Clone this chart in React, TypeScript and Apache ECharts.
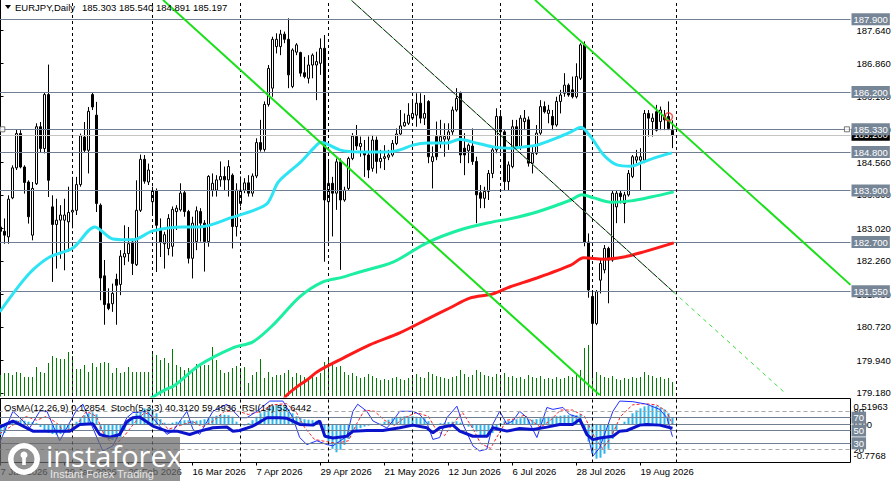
import React, { useEffect, useRef } from "react";
import * as echarts from "echarts";

const FONT = "'Liberation Sans', Arial, Helvetica, sans-serif";
const SYMBOL = "EURJPY,Daily";
const MONTHS = ["Jan", "Feb", "Mar", "Apr", "May", "Jun", "Jul", "Aug", "Sep", "Oct", "Nov", "Dec"];
const FIRST_DAY = "2026-01-07";
const SLOT_COUNT = 213;
const LABEL_STEP = 16;
const MONTH_START_BARS = [18, 38, 60, 82, 103, 125, 148, 169];

const OPEN = [
  183.05, 182.95, 182.82, 183.73, 184.43, 185.23, 184.45, 184.10, 182.86, 184.06,
  185.39, 184.88, 186.14, 183.52, 183.11, 183.21, 183.21, 183.17, 183.40, 183.44,
  184.04, 185.15, 184.84, 186.14, 185.66, 183.56, 181.91, 181.26, 181.26, 181.83,
  181.71, 182.35, 182.43, 182.70, 182.17, 183.44, 184.63, 184.10, 183.64, 183.89,
  183.02, 182.66, 182.55, 182.60, 183.41, 183.45, 183.85, 183.41, 182.32, 182.71,
  183.41, 183.14, 182.71, 183.91, 183.91, 184.15, 184.23, 184.15, 184.26, 183.06,
  183.60, 183.91, 184.08, 183.84, 184.24, 185.02, 184.86, 185.91, 186.29, 187.26,
  187.26, 187.55, 187.43, 186.33, 187.13, 187.12, 186.65, 186.52, 186.83, 186.83,
  186.87, 187.22, 183.64, 184.07, 183.84, 184.57, 183.68, 183.95, 184.65, 185.16,
  184.93, 184.79, 184.73, 184.42, 185.08, 184.58, 184.65, 184.68, 184.73, 185.00,
  185.22, 185.41, 185.47, 185.59, 185.66, 185.94, 185.59, 185.98, 184.58, 185.16,
  185.04, 185.10, 185.10, 185.27, 185.78, 186.17, 184.89, 184.83, 184.94, 184.58,
  183.85, 183.72, 183.88, 184.30, 184.85, 185.63, 185.27, 184.11, 184.46, 185.39,
  184.93, 185.51, 185.55, 184.54, 184.77, 185.24, 185.86, 185.70, 185.63, 185.43,
  185.98, 186.17, 186.36, 186.25, 186.09, 186.52, 187.30, 182.70, 181.43, 180.80,
  181.81, 182.05, 182.55, 182.28, 183.52, 183.84, 183.60, 183.80, 184.23, 184.61,
  184.61, 184.61, 185.70, 185.51, 185.74, 185.51, 185.66, 185.63, 185.303,
];
const HIGH = [
  183.33, 183.25, 183.79, 184.49, 185.33, 185.31, 184.49, 184.14, 184.10, 185.47,
  185.50, 186.19, 186.84, 183.79, 183.71, 183.56, 183.71, 183.99, 184.22, 184.22,
  185.23, 185.50, 185.85, 186.19, 185.97, 183.60, 182.28, 181.62, 181.73, 181.96,
  182.51, 183.09, 183.05, 182.78, 184.14, 184.74, 184.73, 184.53, 183.99, 183.95,
  183.25, 182.94, 183.35, 183.53, 183.56, 184.07, 183.91, 183.45, 183.29, 183.53,
  183.49, 183.21, 184.26, 184.30, 184.26, 184.58, 184.46, 184.61, 184.30, 184.07,
  184.23, 184.19, 184.26, 184.30, 185.12, 185.55, 185.98, 186.83, 187.49, 187.57,
  187.65, 187.61, 187.92, 187.22, 187.34, 187.14, 187.02, 187.06, 187.10, 187.14,
  187.45, 187.53, 184.61, 184.22, 184.65, 184.65, 183.99, 184.69, 185.24, 185.43,
  185.16, 185.08, 185.16, 185.20, 185.16, 184.85, 184.96, 184.85, 185.08, 185.35,
  185.78, 185.70, 185.94, 185.98, 186.17, 186.17, 186.13, 186.01, 184.93, 185.51,
  185.55, 185.47, 185.47, 185.86, 186.29, 186.21, 185.24, 185.00, 185.35, 184.69,
  184.03, 183.99, 184.38, 184.93, 185.82, 185.78, 185.31, 184.58, 185.55, 185.55,
  185.66, 185.78, 185.63, 184.96, 185.43, 186.01, 185.98, 185.90, 185.78, 186.09,
  186.25, 186.64, 186.40, 186.56, 186.87, 187.34, 187.38, 182.90, 181.58, 181.58,
  182.28, 182.63, 182.59, 183.91, 183.91, 183.91, 183.87, 184.38, 184.73, 184.85,
  184.89, 185.78, 185.78, 185.70, 185.90, 185.86, 185.78, 185.98, 185.540,
];
const LOW = [
  182.70, 182.66, 182.66, 183.70, 184.38, 184.42, 183.83, 183.13, 182.74, 184.03,
  184.80, 184.77, 183.75, 181.77, 182.08, 182.31, 182.04, 182.47, 183.02, 183.33,
  183.99, 184.80, 184.30, 185.78, 183.40, 181.34, 180.77, 181.11, 181.07, 180.77,
  181.46, 182.16, 182.24, 181.93, 182.14, 183.40, 184.06, 184.03, 183.37, 182.00,
  182.35, 182.08, 182.39, 182.36, 182.98, 183.41, 183.29, 182.20, 181.85, 182.51,
  182.71, 182.01, 182.59, 183.76, 183.76, 183.99, 183.91, 183.76, 182.55, 182.83,
  183.53, 183.84, 183.76, 183.76, 184.19, 184.81, 184.81, 185.86, 186.09, 187.10,
  187.06, 187.34, 186.29, 186.29, 187.06, 186.56, 186.52, 186.40, 186.52, 186.01,
  186.60, 182.24, 182.71, 182.83, 183.45, 182.05, 183.64, 183.91, 184.61, 184.85,
  184.69, 184.22, 184.19, 184.34, 184.30, 184.42, 184.38, 184.61, 184.69, 184.96,
  185.20, 185.39, 185.43, 185.55, 185.39, 185.47, 185.43, 184.54, 183.95, 184.61,
  184.89, 184.69, 184.85, 185.20, 185.74, 184.54, 184.26, 184.54, 184.50, 183.14,
  183.49, 183.49, 183.68, 184.19, 184.77, 184.77, 183.91, 183.91, 184.42, 184.89,
  184.85, 185.31, 184.46, 184.30, 184.73, 185.20, 185.70, 185.47, 185.31, 185.39,
  185.70, 186.09, 186.09, 186.05, 186.05, 186.48, 182.60, 181.40, 179.60, 180.76,
  181.50, 181.97, 181.27, 182.24, 183.14, 183.60, 183.14, 183.76, 184.19, 184.54,
  183.91, 184.54, 185.16, 185.16, 185.28, 185.31, 185.31, 185.31, 184.891,
];
const CLOSE = [
  182.95, 182.86, 183.70, 184.43, 185.23, 184.45, 184.09, 183.29, 183.95, 185.39,
  184.88, 186.14, 184.14, 183.11, 183.21, 183.33, 183.33, 183.39, 183.44, 184.04,
  185.18, 184.84, 185.75, 185.85, 183.60, 181.86, 181.24, 181.15, 181.50, 181.69,
  182.37, 182.43, 182.66, 182.20, 183.44, 184.63, 184.12, 184.38, 183.89, 183.09,
  182.70, 182.87, 183.25, 183.46, 183.49, 183.84, 183.41, 182.32, 183.14, 183.43,
  183.14, 182.71, 184.23, 184.07, 184.15, 184.23, 184.15, 184.46, 183.06, 183.91,
  183.91, 184.08, 183.84, 184.24, 185.02, 184.86, 185.91, 186.75, 187.43, 187.43,
  187.55, 187.43, 186.60, 187.18, 187.30, 186.64, 186.56, 186.83, 187.06, 186.91,
  187.22, 183.68, 184.07, 183.84, 184.57, 183.68, 183.91, 184.65, 185.17, 184.94,
  185.00, 184.73, 184.38, 185.08, 184.58, 184.65, 184.69, 184.73, 185.00, 185.22,
  185.41, 185.49, 185.66, 185.70, 185.94, 185.59, 185.70, 184.69, 184.69, 184.69,
  185.16, 185.16, 185.27, 185.78, 186.05, 184.73, 184.73, 184.96, 184.58, 183.80,
  183.72, 183.88, 184.30, 184.85, 185.63, 185.27, 184.11, 184.50, 185.39, 184.93,
  185.59, 185.59, 184.54, 184.77, 185.24, 185.86, 185.74, 185.78, 185.43, 185.98,
  186.13, 186.36, 186.13, 186.09, 186.56, 187.30, 182.70, 181.58, 180.80, 181.54,
  182.20, 182.55, 182.28, 183.84, 183.84, 183.76, 183.80, 184.30, 184.69, 184.69,
  184.69, 185.70, 185.59, 185.59, 185.31, 185.78, 185.55, 185.35, 185.197,
];
// tick volume (thousands)
const VOLUME = [
  21, 23, 23, 21, 24, 23, 19, 19, 19, 29,
  24, 23, 33, 40, 38, 37, 37, 44, 40, 27,
  27, 31, 24, 33, 29, 33, 34, 33, 23, 28,
  23, 24, 29, 24, 24, 24, 24, 24, 44, 41,
  36, 38, 33, 47, 31, 29, 26, 28, 26, 32,
  33, 31, 31, 49, 36, 26, 23, 24, 28, 30,
  28, 29, 13, 21, 24, 37, 18, 24, 19, 21,
  21, 23, 26, 19, 23, 21, 19, 18, 21, 19,
  23, 34, 38, 31, 29, 30, 24, 21, 23, 20,
  18, 19, 22, 20, 18, 16, 17, 16, 18, 19,
  17, 16, 18, 20, 22, 19, 18, 24, 22, 20,
  19, 18, 17, 19, 20, 26, 22, 19, 21, 26,
  24, 21, 20, 19, 22, 20, 23, 19, 20, 18,
  19, 17, 21, 19, 18, 20, 17, 18, 17, 19,
  17, 18, 20, 19, 21, 26, 48, 51, 44, 24,
  21, 19, 18, 20, 17, 16, 18, 17, 19, 18,
  19, 24, 21, 20, 18, 19, 17, 18, 14,
];
const OSMA = [
  -0.22, -0.18, 0.03, 0.06, 0.08, 0.08, 0.07, 0.05, 0.04, 0.02,
  -0.06, -0.13, -0.18, -0.20, -0.21, -0.20, -0.18, -0.14, -0.08, 0.05,
  0.12, 0.18, 0.22, 0.24, 0.20, -0.12, -0.25, -0.30, -0.32, -0.30,
  -0.26, -0.12, 0.06, 0.15, 0.22, 0.28, 0.32, 0.33, 0.30, 0.22,
  0.10, 0.03, 0.01, 0.03, 0.05, 0.07, 0.08, 0.08, 0.07, 0.07,
  0.08, 0.10, 0.12, 0.15, 0.17, 0.19, 0.19, 0.18, 0.15, 0.05,
  -0.02, -0.03, 0.02, 0.08, 0.15, 0.22, 0.28, 0.33, 0.37, 0.40,
  0.39, 0.36, 0.31, 0.22, 0.16, 0.12, 0.10, 0.09, 0.08, 0.07,
  0.03, -0.15, -0.35, -0.50, -0.57, -0.52, -0.42, -0.30, -0.18, -0.12,
  -0.08, -0.05, -0.03, -0.01, 0.00, 0.01, 0.05, 0.09, 0.12, 0.14,
  0.15, 0.16, 0.16, 0.16, 0.15, 0.14, 0.12, 0.06, 0.01, -0.02,
  0.02, 0.03, 0.04, 0.05, 0.06, 0.03, -0.02, -0.05, -0.08, -0.15,
  -0.22, -0.26, -0.25, -0.18, -0.08, 0.02, 0.06, 0.07, 0.08, 0.10,
  0.12, 0.13, 0.10, 0.09, 0.10, 0.12, 0.14, 0.15, 0.15, 0.16,
  0.17, 0.18, 0.18, 0.19, 0.18, 0.20, -0.10, -0.35, -0.60, -0.70,
  -0.68, -0.60, -0.50, -0.30, -0.12, -0.02, 0.05, 0.14, 0.22, 0.28,
  0.32, 0.36, 0.38, 0.38, 0.37, 0.34, 0.30, 0.22, 0.12854,
];

// moving averages: [bar index, price]
const MA_FAST = [
  [-0.2, 181.07], [4.8, 181.7], [8.1, 182.05], [12.3, 182.35], [18.1, 182.56], [23.6, 183.05],
  [28.1, 182.77], [33.1, 182.75], [38.1, 182.96], [45.6, 183.05], [49.8, 183.05], [58.1, 183.28],
  [63.6, 183.45], [66.8, 183.61], [69.3, 184.08], [71.8, 184.31], [75.1, 184.57], [78.6, 184.92],
  [80.1, 185.03], [84.8, 184.85], [89.8, 184.8], [96.6, 184.8], [99.8, 184.85], [103.1, 184.96],
  [106.6, 185.01], [111.6, 185.01], [114.8, 185.1], [118.1, 185.03], [123.1, 184.92], [127.3, 184.89],
  [130.8, 184.92], [134.1, 184.96], [139.1, 185.13], [142.6, 185.27], [145.1, 185.38], [147.6, 185.15],
  [150.8, 184.73], [154.1, 184.5], [157.6, 184.47], [160.8, 184.57], [164.1, 184.68], [167.8, 184.78],
];
const MA_MID = [
  [37.5, 179.05], [41.1, 179.25], [43.6, 179.36], [49.8, 179.83], [58.1, 180.23], [63.1, 180.37],
  [68.1, 180.76], [74.8, 181.42], [80.6, 181.77], [85.6, 181.88], [89.8, 182.0], [98.1, 182.23],
  [106.6, 182.68], [114.8, 182.98], [123.1, 183.17], [127.3, 183.24], [134.1, 183.4], [142.6, 183.68],
  [145.3, 183.8], [148.3, 183.73], [152.6, 183.63], [157.6, 183.66], [162.6, 183.75], [168.3, 183.87],
];
const MA_SLOW = [
  [70.8, 179.02], [71.6, 179.13], [74.1, 179.32], [76.6, 179.48], [79.3, 179.68], [84.8, 179.95],
  [92.3, 180.3], [99.8, 180.58], [107.3, 180.93], [112.3, 181.16], [117.3, 181.39], [123.1, 181.49],
  [127.3, 181.65], [134.1, 181.86], [142.6, 182.16], [145.8, 182.33], [150.8, 182.3], [155.8, 182.35],
  [160.8, 182.47], [168.3, 182.68],
];

// trend lines: [bar index, price] anchors
const TREND_A = [[40.6, 188.35], [149.8, 179.13]];
const TREND_B = [[133.6, 188.35], [212.5, 181.7]];
const TREND_C = [[87.6, 188.35], [168.3, 181.53]];
const TREND_C_RAY = [[168.3, 181.53], [196.1, 179.18]];

const LEVELS = [187.9, 186.2, 185.33, 184.8, 183.9, 182.7, 181.55];
const LAST_PRICE = 185.197;
const PRICE_TICKS = [187.64, 186.86, 186.1, 185.33, 184.56, 183.8, 183.02, 182.26, 181.48, 180.72, 179.94, 179.18];
const PRICE_RANGE = [179.107, 188.347];
const ALERT_MARK = [[167, 185.62]];
const ANCHOR_MARKS = [[0.45, 185.33], [211.6, 185.33]];

// sub window
const OSMA_RANGE = [-0.7768, 0.51963];
const RSI_LEVELS = [70, 50, 30];
const STOCH_LEVELS = [80, 20];
const STOCH_MAIN = [
  [-0.2, 31], [3.1, 80], [4.8, 70], [7.3, 54], [9.8, 80], [11.6, 80], [14.8, 34], [19.1, 83], [20.6, 91],
  [24.1, 39], [25.6, 18], [28.1, 26], [31.6, 70], [33.1, 78], [36.6, 80], [41.6, 44], [43.1, 49], [46.6, 80],
  [48.1, 52], [49.8, 44], [53.1, 80], [56.6, 91], [59.8, 70], [61.6, 70], [64.1, 80], [67.3, 96], [70.6, 96],
  [73.1, 70], [74.8, 39], [76.6, 28], [79.1, 34], [81.6, 28], [83.1, 26], [86.6, 41], [88.1, 80], [89.3, 91],
  [91.6, 80], [93.1, 65], [96.6, 54], [98.1, 65], [99.8, 80], [103.1, 80], [104.8, 75], [106.6, 62], [108.1, 36],
  [109.8, 39], [111.6, 70], [114.1, 88], [115.6, 60], [118.1, 26], [119.8, 18], [121.6, 21], [123.1, 60],
  [124.8, 80], [126.6, 60], [128.1, 65], [129.8, 80], [131.6, 70], [134.1, 39], [136.6, 86], [138.1, 83],
  [140.6, 86], [142.3, 75], [144.8, 70], [146.6, 49], [148.1, 10], [149.8, 23], [153.1, 80], [154.8, 96],
  [158.1, 95], [161.6, 91], [164.8, 83], [166.6, 70], [168, 40.312],
];
const STOCH_SIGNAL = [
  [-0.2, 45], [4, 62], [6.5, 72], [9, 66], [11.5, 72], [14, 62], [16, 48], [19, 58], [21.5, 80], [24, 72],
  [26, 42], [28.5, 26], [31, 42], [33.5, 62], [36, 78], [39, 70], [42, 52], [45, 58], [48, 64], [50.5, 56],
  [53, 64], [56, 80], [59.5, 80], [62, 75], [65, 80], [68, 90], [71.5, 92], [74, 78], [76, 55], [78.5, 36],
  [82, 32], [84, 30], [87, 34], [89, 60], [91, 82], [93.5, 80], [96, 66], [98.5, 58], [101, 70], [104, 78],
  [107, 72], [109, 50], [111, 42], [113, 60], [115.5, 78], [118, 54], [120, 30], [122.5, 22], [124.5, 44],
  [126.5, 66], [128.5, 68], [131, 74], [133, 64], [135, 55], [137.5, 66], [140, 82], [143, 82], [146, 72],
  [148.5, 40], [150.5, 22], [152.5, 38], [155, 72], [158, 90], [161, 92], [164, 90], [166.5, 80], [168, 59.4936],
];
const RSI = [
  [-0.2, 55.3], [3.1, 64.7], [4.8, 59.5], [8.1, 49], [12.3, 49], [17.3, 49], [19.8, 59.5], [23.1, 60.5],
  [24.8, 43.7], [27.3, 39.5], [29.8, 43.7], [31.6, 63.7], [33.1, 70], [34.8, 71], [38.1, 56.9], [41.6, 49],
  [44.1, 49], [47.3, 43.7], [49.8, 49], [53.1, 54.2], [56.6, 55.3], [58.1, 49], [59.8, 50], [63.1, 56.9],
  [66.6, 70], [69.8, 70], [71.6, 69], [74.8, 59.5], [78.1, 58.4], [79.8, 64.7], [81.1, 41], [83.1, 38.4],
  [86.6, 41], [88.1, 49], [91.6, 50], [95.6, 50], [99.8, 54.2], [103.1, 58.4], [106.6, 54.2], [108.1, 46.3],
  [109.8, 54.2], [113.1, 58.4], [114.8, 49], [118.1, 41], [121.6, 41], [123.1, 54.2], [126.6, 49],
  [129.8, 53.2], [133.1, 51.6], [136.6, 55.3], [139.8, 59.5], [143.1, 59.5], [144.8, 67.4], [146.6, 43.7],
  [148.1, 35.8], [149.8, 38.4], [153.1, 41], [154.8, 49], [156.6, 50], [159.8, 58.4], [161.6, 59.5],
  [164.8, 58.4], [168, 53.6442],
];

function tradingDays(start: string, n: number): string[] {
  const out: string[] = [];
  const d = new Date(start + "T00:00:00Z");
  while (out.length < n) {
    const wd = d.getUTCDay();
    if (wd !== 0 && wd !== 6) {
      out.push(`${d.getUTCDate()} ${MONTHS[d.getUTCMonth()]} ${d.getUTCFullYear()}`);
    }
    d.setUTCDate(d.getUTCDate() + 1);
  }
  return out;
}

const TEXT = { color: "#000", fontFamily: FONT, fontSize: 9.5 };
const LEVEL_COLOR = "#6F7E90";
const BOX_COLOR = "#778696";

function boxLabel(bg: string, fmt: (v: number) => string) {
  return {
    show: true,
    position: "end",
    distance: 1,
    formatter: (p: any) => fmt(Number(p.value)),
    backgroundColor: bg,
    color: "#fff",
    padding: [1, 2, 0, 2],
    fontFamily: FONT,
    fontSize: 9.5,
    lineHeight: 11,
  };
}

function buildOption() {
  const cats = tradingDays(FIRST_DAY, SLOT_COUNT);
  const lastBar = OPEN.length - 1;
  const showLabel = (idx: number) => idx <= lastBar && idx % LABEL_STEP === 0;
  const candles = OPEN.map((o, i) => [o, CLOSE[i], LOW[i], HIGH[i]]);
  const dp = (v: number, n: number) => v.toFixed(n);

  const header =
    `OsMA(12,26,9) ${OSMA[lastBar]}  Stoch(5,3,3) ${dp(STOCH_MAIN[STOCH_MAIN.length - 1][1], 4)} ` +
    `${dp(STOCH_SIGNAL[STOCH_SIGNAL.length - 1][1], 4)}  RSI(14) ${dp(RSI[RSI.length - 1][1], 4)}`;
  const ohlc = `${dp(OPEN[lastBar], 3)} ${dp(HIGH[lastBar], 3)} ${dp(LOW[lastBar], 3)} ${dp(CLOSE[lastBar], 3)}`;

  const noEmph = { disabled: true };
  const lineBase = { type: "line", showSymbol: false, silent: true, animation: false, emphasis: noEmph };
  const richText = { color: "#000", fontFamily: FONT, fontSize: 9.5, lineHeight: 11 };

  return {
    animation: false,
    backgroundColor: "#fff",
    grid: [
      { left: -1.5, top: 0, width: 852, height: 396, containLabel: false, outerBoundsMode: "none" },
      {
        left: -1.5, top: 398.5, width: 852, height: 64, show: true, borderColor: "#000", borderWidth: 1,
        backgroundColor: "rgba(0,0,0,0)", containLabel: false, outerBoundsMode: "none",
      },
    ],
    xAxis: [
      { gridIndex: 0, type: "category", data: cats, show: false, boundaryGap: true },
      { gridIndex: 0, type: "value", min: -0.5, max: 212.5, show: false },
      {
        gridIndex: 1, type: "category", data: cats, boundaryGap: true, position: "bottom",
        axisLine: { show: false },
        axisTick: { show: true, alignWithLabel: true, interval: showLabel, length: 3, lineStyle: { color: "#000" } },
        axisLabel: { interval: showLabel, align: "left", margin: 4, ...TEXT },
        splitLine: { show: false },
      },
      { gridIndex: 1, type: "value", min: -0.5, max: 212.5, show: false },
    ],
    yAxis: [
      {
        gridIndex: 0, type: "value", position: "right", min: PRICE_RANGE[0], max: PRICE_RANGE[1],
        axisLine: { show: true, lineStyle: { color: "#000", width: 1 } },
        axisTick: { show: true, length: 3, customValues: PRICE_TICKS, lineStyle: { color: "#000" } },
        axisLabel: { customValues: PRICE_TICKS, formatter: (v: number) => v.toFixed(3), margin: 6, ...TEXT },
        splitLine: { show: false },
      },
      { gridIndex: 0, type: "value", min: 0, max: 396, show: false },
      {
        gridIndex: 1, type: "value", position: "right", min: 0, max: 100,
        axisLine: { show: true, lineStyle: { color: "#000" } },
        axisTick: { show: false },
        axisLabel: { customValues: STOCH_LEVELS, margin: 3, ...TEXT },
        splitLine: { show: false },
      },
      {
        gridIndex: 1, type: "value", position: "right", min: OSMA_RANGE[0], max: OSMA_RANGE[1],
        axisLine: { show: false }, axisTick: { show: false },
        axisLabel: {
          customValues: [OSMA_RANGE[1], 0, OSMA_RANGE[0]],
          formatter: (v: number) => (v === 0 ? "{mid|0.00}" : v > 0 ? `{top|${v}}` : `{bot|${v}}`),
          margin: 3, ...TEXT,
          rich: {
            top: { ...richText, padding: [15, 0, 0, 0] },
            bot: { ...richText, padding: [0, 0, 15, 0] },
            mid: { ...richText },
          },
        },
        splitLine: { show: false },
      },
    ],
    series: [
      {
        type: "bar", xAxisIndex: 0, yAxisIndex: 1, data: VOLUME, barWidth: 1,
        itemStyle: { color: "#008000" }, silent: true, z: 1, emphasis: noEmph,
      },
      {
        type: "candlestick", xAxisIndex: 0, yAxisIndex: 0, data: candles, barWidth: 3, z: 3, silent: true,
        itemStyle: {
          color: "#fff", color0: "#000", borderColor: "#000", borderColor0: "#000",
          borderColorDoji: "#000", borderWidth: 1,
        },
        emphasis: noEmph,
      },
      {
        ...lineBase, name: "levels", xAxisIndex: 1, yAxisIndex: 0, data: [], z: 4,
        markLine: {
          silent: true, symbol: ["none", "none"], animation: false, emphasis: noEmph,
          lineStyle: { color: LEVEL_COLOR, width: 1, type: "solid" },
          label: boxLabel(BOX_COLOR, (v) => v.toFixed(3)),
          data: [
            { yAxis: LAST_PRICE, lineStyle: { color: "#C4C4C4", width: 1, type: "solid" }, label: boxLabel("#000", (v) => v.toFixed(3)) },
            ...LEVELS.map((v) => ({ yAxis: v })),
          ],
        },
      },
      {
        ...lineBase, name: "separators", xAxisIndex: 1, yAxisIndex: 0, data: [], z: 4,
        markLine: {
          silent: true, symbol: ["none", "none"], animation: false, emphasis: noEmph,
          lineStyle: { color: "#000", width: 1, type: [3, 3] },
          label: { show: false },
          data: MONTH_START_BARS.map((i) => ({ xAxis: i })),
        },
      },
      { ...lineBase, xAxisIndex: 1, yAxisIndex: 0, data: MA_SLOW, smooth: 0.3, z: 5, lineStyle: { color: "#FF1A1A", width: 3 } },
      { ...lineBase, xAxisIndex: 1, yAxisIndex: 0, data: MA_MID, smooth: 0.3, z: 5, lineStyle: { color: "#1CEFA2", width: 3 } },
      { ...lineBase, xAxisIndex: 1, yAxisIndex: 0, data: MA_FAST, smooth: 0.3, z: 5, lineStyle: { color: "#2DE4F4", width: 3 } },
      { ...lineBase, xAxisIndex: 1, yAxisIndex: 0, data: TREND_A, z: 6, lineStyle: { color: "#19E019", width: 2 } },
      { ...lineBase, xAxisIndex: 1, yAxisIndex: 0, data: TREND_B, z: 6, lineStyle: { color: "#19E019", width: 2 } },
      { ...lineBase, xAxisIndex: 1, yAxisIndex: 0, data: TREND_C, z: 6, lineStyle: { color: "#000", width: 1 } },
      { ...lineBase, xAxisIndex: 1, yAxisIndex: 0, data: TREND_C, z: 6, lineStyle: { color: "#40E040", width: 1, type: [2, 5] } },
      { ...lineBase, xAxisIndex: 1, yAxisIndex: 0, data: TREND_C_RAY, z: 6, lineStyle: { color: "#3CDC3C", width: 1, type: [4, 4] } },
      {
        type: "scatter", xAxisIndex: 1, yAxisIndex: 0, data: ALERT_MARK, symbol: "circle", symbolSize: 8, z: 7,
        silent: true, itemStyle: { color: "rgba(0,0,0,0)", borderColor: "#E83030", borderWidth: 1.5 },
      },
      {
        type: "scatter", xAxisIndex: 1, yAxisIndex: 0, data: ANCHOR_MARKS, symbol: "rect", symbolSize: 5, z: 7,
        silent: true, itemStyle: { color: "#fff", borderColor: "#555", borderWidth: 1 },
      },
      // sub window
      {
        type: "bar", xAxisIndex: 2, yAxisIndex: 3, data: OSMA, barWidth: 2, z: 2, silent: true,
        itemStyle: { color: "#2DB6EA" }, emphasis: noEmph,
      },
      {
        ...lineBase, xAxisIndex: 3, yAxisIndex: 3, data: [], z: 3,
        markLine: {
          silent: true, symbol: ["none", "none"], animation: false, emphasis: noEmph,
          lineStyle: { color: LEVEL_COLOR, width: 1, type: "solid" }, label: { show: false },
          data: [{ yAxis: 0 }],
        },
      },
      {
        ...lineBase, xAxisIndex: 3, yAxisIndex: 2, data: [], z: 3,
        markLine: {
          silent: true, symbol: ["none", "none"], animation: false, emphasis: noEmph,
          lineStyle: { color: LEVEL_COLOR, width: 1, type: "solid" },
          label: boxLabel(BOX_COLOR, (v) => String(v)),
          data: [
            ...RSI_LEVELS.map((v) => ({ yAxis: v })),
            ...STOCH_LEVELS.map((v) => ({ yAxis: v, lineStyle: { color: "#A8A8A8", width: 1, type: [4, 3] }, label: { show: false } })),
          ],
        },
      },
      {
        ...lineBase, xAxisIndex: 3, yAxisIndex: 2, data: [], z: 3,
        markLine: {
          silent: true, symbol: ["none", "none"], animation: false, emphasis: noEmph,
          lineStyle: { color: "#000", width: 1, type: [3, 3] }, label: { show: false },
          data: MONTH_START_BARS.map((i) => ({ xAxis: i })),
        },
      },
      { ...lineBase, xAxisIndex: 3, yAxisIndex: 2, data: STOCH_SIGNAL, z: 4, lineStyle: { color: "#FF2020", width: 1, type: [3, 2] } },
      { ...lineBase, xAxisIndex: 3, yAxisIndex: 2, data: STOCH_MAIN, z: 4, lineStyle: { color: "#2030FF", width: 1 } },
      { ...lineBase, xAxisIndex: 3, yAxisIndex: 2, data: RSI, z: 5, lineStyle: { color: "#0B14CC", width: 3 } },
    ],
    graphic: {
      elements: [
        { type: "polygon", z: 50, shape: { points: [[5, 5], [11, 5], [8, 9]] }, style: { fill: "#000" } },
        { type: "text", z: 50, x: 15, y: 7, style: { text: SYMBOL, fill: "#000", fontFamily: FONT, fontSize: 9.5, verticalAlign: "middle" } },
        { type: "text", z: 50, x: 82, y: 7, style: { text: ohlc, fill: "#000", fontFamily: FONT, fontSize: 9.5, verticalAlign: "middle" } },
        { type: "text", z: 50, x: 4, y: 407.5, style: { text: header, fill: "#000", fontFamily: FONT, fontSize: 9.5, verticalAlign: "middle" } },
        {
          type: "group", z: 100,
          children: [
            { type: "rect", z: 100, shape: { x: 0, y: 437, width: 180, height: 44 }, style: { fill: "rgba(105,105,105,0.72)" } },
            { type: "ring", z: 101, shape: { cx: 24, cy: 459, r: 16, r0: 10.5 }, style: { fill: "#fff" } },
            { type: "circle", z: 101, shape: { cx: 24, cy: 455, r: 3.5 }, style: { fill: "#fff" } },
            { type: "rect", z: 101, shape: { x: 22.2, y: 456, width: 3.6, height: 9 }, style: { fill: "#fff" } },
            { type: "text", z: 101, x: 46, y: 455, style: { text: "instaforex", fill: "#fff", fontFamily: "'Open Sans', Lato, sans-serif", fontSize: 29, verticalAlign: "middle" } },
            { type: "text", z: 101, x: 50, y: 474, style: { text: "Instant Forex Trading", fill: "#e6e6e6", fontFamily: FONT, fontSize: 11, verticalAlign: "middle" } },
          ],
        },
      ],
    },
  };
}

export default function App() {
  const ref = useRef<HTMLDivElement>(null);
  useEffect(() => {
    if (!ref.current) return;
    const chart = echarts.init(ref.current, undefined, { renderer: "svg" });
    chart.setOption(buildOption() as any);
    return () => chart.dispose();
  }, []);
  return <div ref={ref} style={{ position: "absolute", left: 0, top: 0, width: 892, height: 481 }} />;
}
